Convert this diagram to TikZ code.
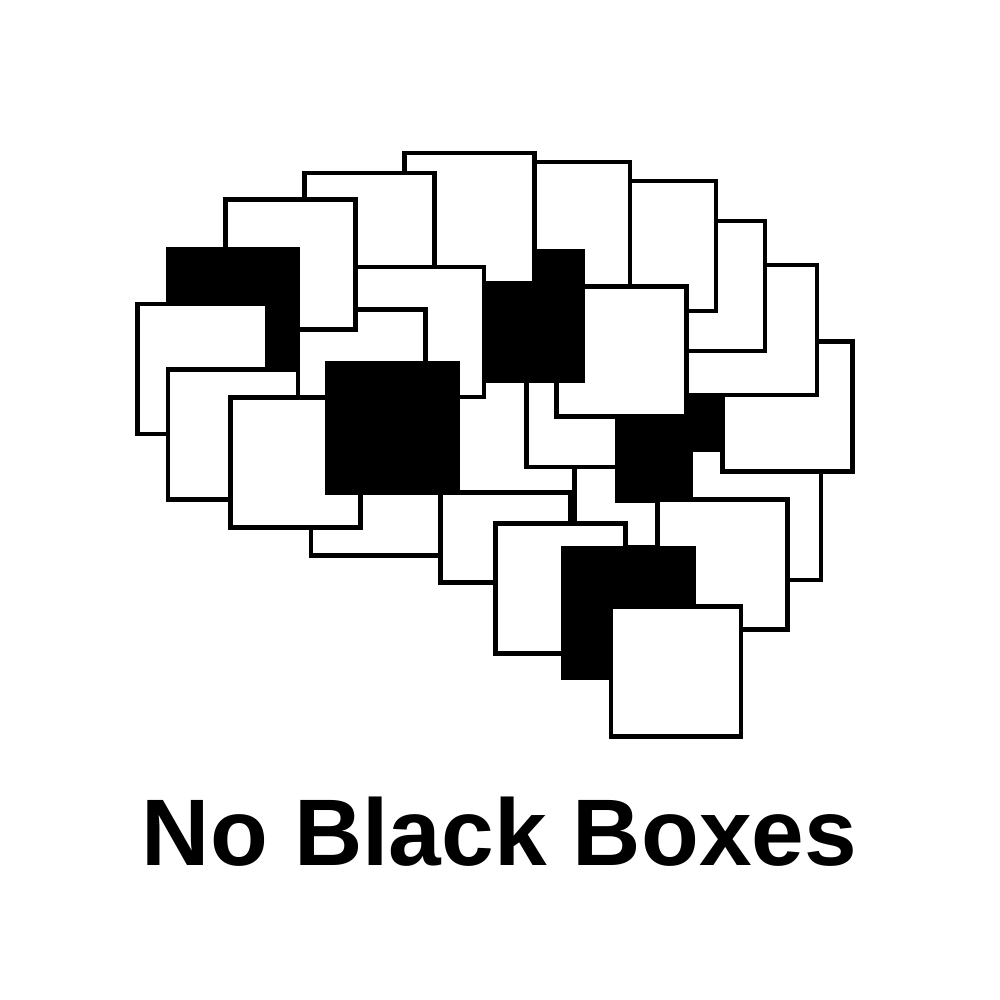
\documentclass[tikz,border=0pt]{standalone}
\usepackage{fontspec}
\setmainfont{Liberation Sans}
\tikzset{
  whitebox/.style={draw=black,fill=white,line width=2.4pt,miter limit=10},
  blackbox/.style={draw=black,fill=black,line width=2.4pt},
}
\newcommand{\bxw}[2]{\path[whitebox] (#1,#2) rectangle ++(130,130);}
\newcommand{\bxb}[2]{\path[blackbox] (#1,#2) rectangle ++(130,130);}
\begin{document}
\begin{tikzpicture}[x=0.5pt,y=-0.5pt]
\useasboundingbox (0,0) rectangle (1000,1000);
\bxw{311}{425.5}   % M
\bxw{440.5}{452.5} % U
\bxw{444}{362.5}   % T
\bxw{574.5}{417}   % AA
\bxw{526.5}{337}   % S
\bxb{617}{370.3}   % a
\bxw{691}{450}     % Z
\bxw{657.7}{499.3} % Y
\bxw{722.7}{341.5} % F
\bxw{687}{265}     % E
\bxw{635}{221}     % D
\bxw{586}{181}     % C
\bxw{500}{162}     % B
\bxw{556.5}{286.6} % R
\bxb{453}{251}     % Q
\bxw{404.5}{153}   % A
\bxw{304.5}{173}   % G
\bxw{354}{267}     % O
\bxw{295.5}{309.7} % P
\bxw{225.2}{199.6} % H
\bxb{168}{249}     % I
\bxw{137.5}{304}   % J
\bxw{168}{369.8}   % K
\bxw{230.7}{397.8} % L
\bxb{327.6}{363}   % N
\bxw{495.4}{523.5} % V
\bxb{563.7}{548}   % W
\bxw{611}{606.5}   % X
\node[inner sep=0pt,anchor=base] (title) at (499.5,865) {\fontsize{47.3}{50}\selectfont\bfseries No Black Boxes};
\end{tikzpicture}
\end{document}
